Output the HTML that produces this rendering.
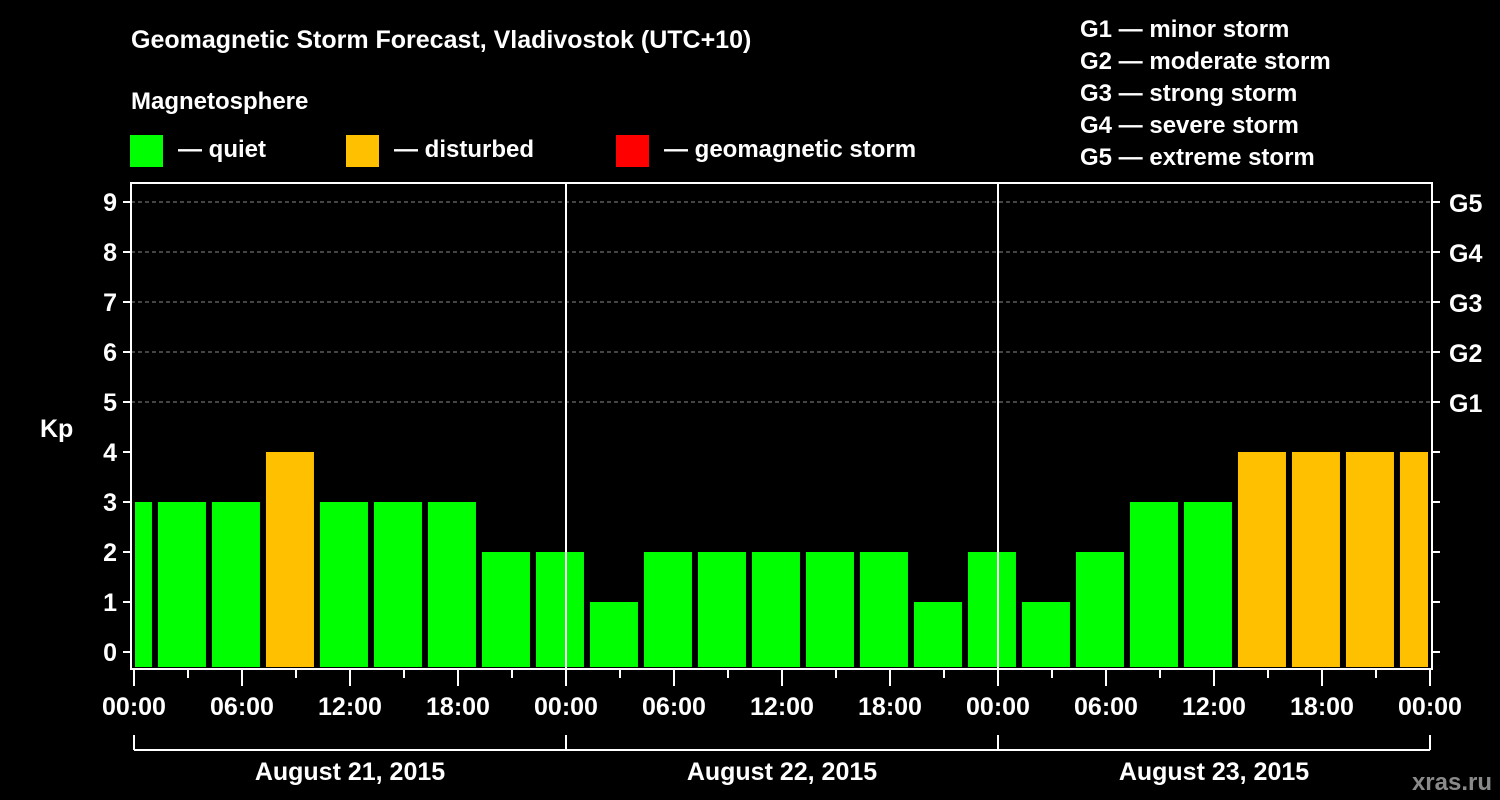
<!DOCTYPE html>
<html><head><meta charset="utf-8"><style>
html,body{margin:0;padding:0;background:#000;}
svg{display:block;}
text{font-family:"Liberation Sans",sans-serif;font-weight:bold;fill:#fff;}
</style></head><body>
<svg id="c" width="1500" height="800">
<text x="131" y="48" font-size="25">Geomagnetic Storm Forecast, Vladivostok (UTC+10)</text>
<text x="131" y="109" font-size="24">Magnetosphere</text>
<g><rect x="130" y="135" width="33" height="32" fill="#00ff00"/><text x="178" y="157" font-size="24">— quiet</text></g>
<g><rect x="346" y="135" width="33" height="32" fill="#ffc000"/><text x="394" y="157" font-size="24">— disturbed</text></g>
<g><rect x="616" y="135" width="33" height="32" fill="#ff0000"/><text x="664" y="157" font-size="24">— geomagnetic storm</text></g>
<g font-size="24">
<text x="1080" y="37" font-size="24">G1 — minor storm</text>
<text x="1080" y="69" font-size="24">G2 — moderate storm</text>
<text x="1080" y="101" font-size="24">G3 — strong storm</text>
<text x="1080" y="133" font-size="24">G4 — severe storm</text>
<text x="1080" y="165" font-size="24">G5 — extreme storm</text>
</g>
<g id="grid"></g><g id="bars"></g><g id="axes"></g>
<text x="40" y="437" font-size="25">Kp</text>
<text x="1492" y="790" font-size="24" text-anchor="end" fill="#888" style="fill:#8a8a8a">xras.ru</text>
</svg>
<script>
const kpValues=[3,3,3,4,3,3,3,2,2,1,2,2,2,2,2,1,2,1,2,3,3,4,4,4,4];
const yTicks=[0,1,2,3,4,5,6,7,8,9];
const gLabels=["G1","G2","G3","G4","G5"];
const gLevels=[5,6,7,8,9];
const hourLabels=["00:00","06:00","12:00","18:00"];
const dayLabels=["August 21, 2015","August 22, 2015","August 23, 2015"];
const NS="http://www.w3.org/2000/svg";
const L=131,R=1432,T=183,B=669,X0=134,PXH=18;
const y=v=>652-50*v;
const x=h=>X0+h*PXH;
function mk(t,a,p){const e=document.createElementNS(NS,t);for(const k in a)e.setAttribute(k,a[k]);p.appendChild(e);return e;}
const grid=document.getElementById('grid'),bars=document.getElementById('bars'),axes=document.getElementById('axes');
gLevels.forEach((v,i)=>{
 const l=mk('line',{x1:L,x2:R,y1:y(v),y2:y(v),stroke:'#888','stroke-dasharray':'4,3'},grid);
 
 
 const t=mk('text',{x:1449,y:y(v)+10,'font-size':25},axes);t.textContent=gLabels[i];
 
 
});
kpValues.forEach((v,i)=>{
 const h=-1.78+3*i;
 let a=x(h)+2,b=a+48;a=Math.max(a,135);b=Math.min(b,1428);
 const r=mk('rect',{x:a,y:y(v),width:b-a,height:667-y(v),fill:v>=5?'#ff0000':(v>=4?'#ffc000':'#00ff00')},bars);
 
 
});
// frame
mk('rect',{x:L,y:T,width:R-L,height:B-T,fill:'none',stroke:'#fff','stroke-width':2},axes);
for(let d=1;d<3;d++)mk('line',{x1:x(24*d),x2:x(24*d),y1:T,y2:B,stroke:'#fff','stroke-width':2},axes);
yTicks.forEach(v=>{
 mk('line',{x1:L-8,x2:L,y1:y(v),y2:y(v),stroke:'#fff','stroke-width':2},axes);
 mk('line',{x1:R,x2:R+8,y1:y(v),y2:y(v),stroke:'#fff','stroke-width':2},axes);
 const t=mk('text',{x:L-14,y:y(v)+9,'font-size':25,'text-anchor':'end'},axes);t.textContent=v;
 
 
});
for(let h=0;h<=72;h+=3){
 mk('line',{x1:x(h),x2:x(h),y1:B,y2:B+(h%6===0?17:9),stroke:'#fff','stroke-width':2},axes);
 if(h%6===0){const t=mk('text',{x:x(h),y:715,'font-size':25,'text-anchor':'middle'},axes);t.textContent=hourLabels[(h/6)%4];
 
 }
}
mk('line',{x1:x(0),x2:x(72),y1:750,y2:750,stroke:'#fff','stroke-width':2},axes);
for(let d=0;d<=3;d++)mk('line',{x1:x(24*d),x2:x(24*d),y1:735,y2:750,stroke:'#fff','stroke-width':2},axes);
dayLabels.forEach((s,d)=>{const t=mk('text',{x:x(24*d+12),y:780,'font-size':25,'text-anchor':'middle'},axes);t.textContent=s;
 
 });
</script>
</body></html>
